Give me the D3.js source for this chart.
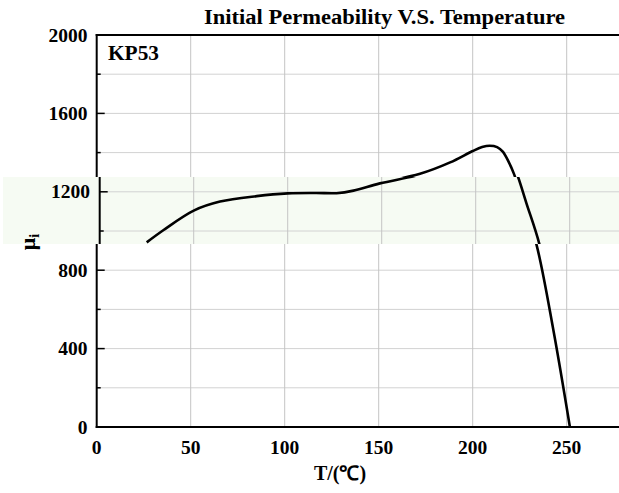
<!DOCTYPE html>
<html>
<head>
<meta charset="utf-8">
<script src="https://cdn.jsdelivr.net/npm/d3@7"></script>
<style>
  html, body { margin: 0; padding: 0; background: #fff; }
  svg { display: block; }
  text { font-family: "Liberation Serif", "Times New Roman", serif; font-weight: bold; fill: #000; }
</style>
</head>
<body>
<svg id="chart" width="619" height="493"></svg>
<script>
// ---- data ----
const temperature = [25, 34, 50, 64, 83.5, 100, 115, 126, 135, 149, 172, 188, 200, 205, 209, 213, 216, 219, 222, 227, 234, 243, 251.7];
const permeability = [942, 1005, 1104, 1150, 1178, 1192, 1194, 1193, 1206, 1243, 1292, 1350, 1408, 1428, 1435, 1428, 1405, 1355, 1290, 1141, 928, 490, 0];
const xTicks = [0, 50, 100, 150, 200, 250];
const yTicks = [0, 400, 800, 1200, 1600, 2000];
const yGrid = [200, 400, 600, 800, 1000, 1200, 1400, 1600, 1800];
const yMinor = [200, 600, 1000, 1400, 1800];
const titleText = "Initial Permeability V.S. Temperature";
const seriesLabel = "KP53";

const W = 619, H = 493;
const pLeft = 96.7, pTop = 35, pBottom = 427;
const x = d3.scaleLinear().domain([0, 300]).range([pLeft, pLeft + 6 * 94]);
const y = d3.scaleLinear().domain([0, 2000]).range([pBottom, pTop]);
const svg = d3.select("#chart");

const pts = temperature.map((t, i) => [t, permeability[i]]);
const line = d3.line().x(d => x(d[0])).y(d => y(d[1])).curve(d3.curveCatmullRom.alpha(0.5));

function drawMarks(g) {
  g.selectAll(".hg").data(yGrid).enter().append("line")
    .attr("x1", pLeft).attr("x2", W).attr("y1", d => y(d)).attr("y2", d => y(d))
    .attr("stroke", "#d2d2d2").attr("stroke-width", 1);
  g.selectAll(".vg").data(xTicks.slice(1)).enter().append("line")
    .attr("x1", d => x(d)).attr("x2", d => x(d)).attr("y1", pTop).attr("y2", pBottom)
    .attr("stroke", "#c4c4c4").attr("stroke-width", 1);
  g.selectAll(".ymaj").data(yTicks).enter().append("line")
    .attr("x1", pLeft).attr("x2", pLeft + 8).attr("y1", d => y(d)).attr("y2", d => y(d))
    .attr("stroke", "#000").attr("stroke-width", 1.5);
  g.selectAll(".ymin").data(yMinor).enter().append("line")
    .attr("x1", pLeft).attr("x2", pLeft + 4).attr("y1", d => y(d)).attr("y2", d => y(d))
    .attr("stroke", "#000").attr("stroke-width", 1.5);
  g.append("line").attr("x1", pLeft).attr("x2", pLeft).attr("y1", pTop - 1).attr("y2", pBottom + 1)
    .attr("stroke", "#000").attr("stroke-width", 2);
  g.append("line").attr("x1", pLeft - 1).attr("x2", W).attr("y1", pBottom).attr("y2", pBottom)
    .attr("stroke", "#000").attr("stroke-width", 2);
  g.append("line").attr("x1", pLeft - 1).attr("x2", W).attr("y1", pTop).attr("y2", pTop)
    .attr("stroke", "#000").attr("stroke-width", 2);
  g.append("path").datum(pts).attr("d", line)
    .attr("fill", "none").attr("stroke", "#000").attr("stroke-width", 2.6)
    .attr("stroke-linejoin", "round").attr("stroke-linecap", "butt");
}

const main = svg.append("g");
drawMarks(main);

// pasted light-green strip, shifted slightly to the right
const bandTop = 177, bandH = 67;
svg.append("clipPath").attr("id", "bandClip")
  .append("rect").attr("x", 3).attr("y", bandTop).attr("width", W).attr("height", bandH);
const band = svg.append("g").attr("clip-path", "url(#bandClip)");
band.append("rect").attr("x", 0).attr("y", bandTop).attr("width", W).attr("height", bandH).attr("fill", "#f6fbf3");
drawMarks(band.append("g").attr("transform", "translate(3,0)"));

svg.selectAll(".ylab").data(yTicks).enter().append("text")
  .attr("x", d => d === 1200 ? 90 : 87.5).attr("y", d => y(d) + 6.5)
  .attr("text-anchor", "end").attr("font-size", 19.5).text(d => d);
svg.selectAll(".xlab").data(xTicks).enter().append("text")
  .attr("x", d => x(d)).attr("y", 453.5)
  .attr("text-anchor", "middle").attr("font-size", 19.5).text(d => d);

svg.append("text").attr("x", 384.5).attr("y", 23.5).attr("text-anchor", "middle")
  .attr("font-size", 20).attr("textLength", 361).attr("lengthAdjust", "spacingAndGlyphs").text(titleText);
svg.append("text").attr("x", 108).attr("y", 60).attr("font-size", 20)
  .attr("textLength", 51).attr("lengthAdjust", "spacingAndGlyphs").text(seriesLabel);

const yl = svg.append("text").attr("transform", "translate(35,242) rotate(-90)")
  .attr("text-anchor", "middle").attr("font-size", 22);
yl.append("tspan").text("μ");
yl.append("tspan").attr("font-size", 14).attr("dy", 4).text("i");

svg.append("text").attr("x", 340).attr("y", 480).attr("text-anchor", "middle")
  .attr("font-size", 20).text("T/(℃)");
</script>
</body>
</html>
